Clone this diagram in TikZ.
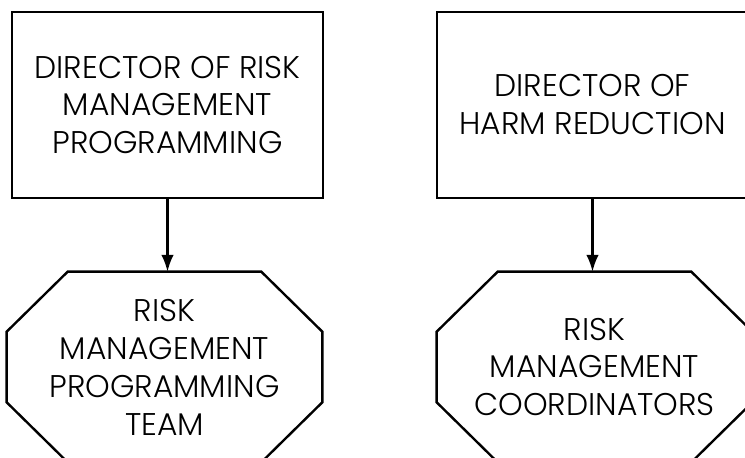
\documentclass[tikz,border=0pt]{standalone}
\usepackage{fontspec}
\setmainfont{Poppins}[UprightFont=* Light]
\usepackage{tikz}
\usetikzlibrary{positioning}
\usetikzlibrary{calc}
\usetikzlibrary{arrows.meta}
\tikzset{
  every node/.style={
    align=center,
    font=\fontsize{22.3}{27}\selectfont,
  },
  dirbox/.style={
    draw, line width=1.7pt,
    rectangle,
    minimum width=7.775cm, minimum height=4.65cm,
  },
  teambox/.style={
    draw=none,
    rectangle,
    minimum width=7.875cm, minimum height=4.75cm,
  },
  link/.style={
    line width=1.7pt,
    -{Latex[length=12pt,width=9pt]},
  },
}
\newcommand{\octaround}[1]{%
  \draw[line width=1.7pt, line join=miter]
    ($(#1.north west)+(61,0)$) -- ($(#1.north east)+(-61,0)$)
    -- ($(#1.north east)+(0,60)$) -- ($(#1.south east)+(0,-60)$)
    -- ($(#1.south east)+(-61,0)$) -- ($(#1.south west)+(61,0)$)
    -- ($(#1.south west)+(0,-60)$) -- ($(#1.north west)+(0,60)$) -- cycle;
}

\begin{document}
\begin{tikzpicture}[x=0.025cm,y=-0.025cm]
    \useasboundingbox (0,0) rectangle (745,458);
    \clip (0,0) rectangle (745,458);
    \node[dirbox] (dirrisk) at (167.5,105) {DIRECTOR OF RISK\\MANAGEMENT\\PROGRAMMING};
    \node[dirbox] (dirharm) at (592.5,105) {DIRECTOR OF\\HARM REDUCTION};
    \node[teambox] (riskteam) at (164.5,367) {RISK\\MANAGEMENT\\PROGRAMMING\\TEAM};
    \node[teambox] (riskcoord) at (594.5,367) {RISK\\MANAGEMENT\\COORDINATORS};
    \octaround{riskteam}
    \octaround{riskcoord}
    \draw[link] (dirrisk.south) -- (dirrisk.south |- riskteam.north);
    \draw[link] (dirharm.south) -- (dirharm.south |- riskcoord.north);
  \end{tikzpicture}
\end{document}
